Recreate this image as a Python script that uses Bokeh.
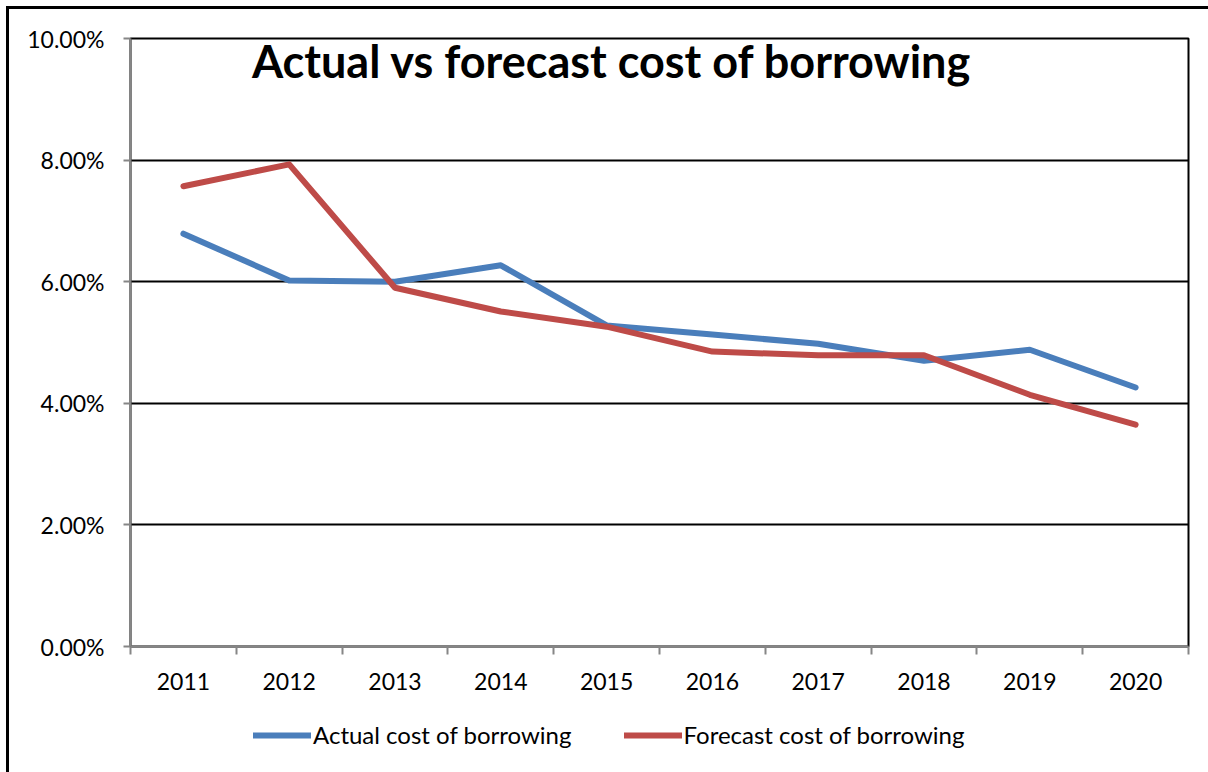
from bokeh.plotting import figure
from bokeh.layouts import column
from bokeh.models import (FixedTicker, NumeralTickFormatter, Legend, LegendItem,
                          Label, Range1d, ColumnDataSource)
from bokeh.embed import file_html
from bokeh.resources import INLINE

years = ["2011", "2012", "2013", "2014", "2015", "2016", "2017", "2018", "2019", "2020"]
actual = [0.0679, 0.0602, 0.0600, 0.0627, 0.0528, 0.0513, 0.0498, 0.0470, 0.0488, 0.0426]
forecast = [0.0757, 0.0793, 0.0590, 0.0551, 0.0526, 0.0485, 0.0479, 0.0479, 0.0414, 0.0365]
y_ticks = [0.0, 0.02, 0.04, 0.06, 0.08, 0.10]
title_text = "Actual vs forecast  cost of borrowing"
series_names = ["Actual cost of borrowing", "Forecast cost of borrowing"]
colors = ["#4A7EBB", "#BE4B48"]

xpos = [i + 0.5 for i in range(len(years))]
src = ColumnDataSource(dict(x=xpos, actual=actual, forecast=forecast))

FONT = "Lato"
p = figure(frame_width=1058, frame_height=608, output_backend="svg", toolbar_location=None,
           x_range=Range1d(0, len(years)), y_range=Range1d(0, 0.10),
           min_border_left=121, min_border_top=29, min_border_right=20, min_border_bottom=62)

p.outline_line_color = "black"
p.outline_line_width = 2

# y axis
p.yaxis.ticker = FixedTicker(ticks=y_ticks)
p.yaxis.formatter = NumeralTickFormatter(format="0.00%")
p.yaxis.axis_line_color = "#868686"
p.yaxis.axis_line_width = 2
p.yaxis.major_tick_line_color = "#868686"
p.yaxis.major_tick_line_width = 2
p.yaxis.major_tick_out = 7
p.yaxis.major_tick_in = 0
p.yaxis.minor_tick_line_color = None
p.yaxis.major_label_text_font = FONT
p.yaxis.major_label_text_font_size = "23px"
p.yaxis.major_label_text_color = "black"
p.yaxis.major_label_standoff = 19

# x axis with ticks between categories
p.xaxis.ticker = FixedTicker(ticks=xpos, minor_ticks=list(range(len(years) + 1)))
p.xaxis.major_label_overrides = {x: y for x, y in zip(xpos, years)}
p.xaxis.axis_line_color = "#868686"
p.xaxis.axis_line_width = 2
p.xaxis.major_tick_line_color = None
p.xaxis.major_tick_out = 0
p.xaxis.major_tick_in = 0
p.xaxis.minor_tick_line_color = "#868686"
p.xaxis.minor_tick_line_width = 2
p.xaxis.minor_tick_out = 8
p.xaxis.minor_tick_in = 0
p.xaxis.major_label_text_font = FONT
p.xaxis.major_label_text_font_size = "23px"
p.xaxis.major_label_text_color = "black"
p.xaxis.major_label_standoff = 18

p.xgrid.grid_line_color = None
p.ygrid.ticker = FixedTicker(ticks=y_ticks[1:])
p.ygrid.grid_line_color = "black"
p.ygrid.grid_line_width = 2

p.line("x", "actual", source=src, line_color=colors[0], line_width=6,
       line_cap="round", line_join="round")
p.line("x", "forecast", source=src, line_color=colors[1], line_width=6,
       line_cap="round", line_join="round")

title = Label(x=487, y=586, x_units="screen", y_units="screen", text=title_text,
              text_font=FONT, text_font_style="bold", text_font_size="45px",
              text_align="center", text_baseline="middle", text_color="black")
p.add_layout(title)

# legend strip below the chart (same series, drawn out of view so only the legend shows)
p2 = figure(width=1199, height=66, output_backend="svg", toolbar_location=None,
            x_range=Range1d(0, len(years)), y_range=Range1d(1, 2),
            x_axis_location=None, y_axis_location=None, min_border=0)
p2.outline_line_color = None
p2.grid.visible = False
lr1 = p2.line("x", "actual", source=src, line_color=colors[0], line_width=6, line_cap="round")
lr2 = p2.line("x", "forecast", source=src, line_color=colors[1], line_width=6, line_cap="round")
legend = Legend(items=[LegendItem(label=series_names[0], renderers=[lr1]),
                       LegendItem(label=series_names[1], renderers=[lr2])],
                orientation="horizontal", location=(123, 25))
legend.label_text_font = FONT
legend.label_text_font_size = "24px"
legend.label_text_color = "black"
legend.glyph_width = 58
legend.label_standoff = 2
legend.spacing = 52
legend.border_line_color = None
legend.background_fill_alpha = 0
legend.margin = 0
legend.padding = 0
p2.add_layout(legend)

layout = column(p, p2, spacing=0)
layout.margin = (6, 0, 0, 6)
layout.styles = {"border-left": "3px solid black", "border-top": "3px solid black"}

open("out.html", "w").write(file_html(layout, INLINE))
